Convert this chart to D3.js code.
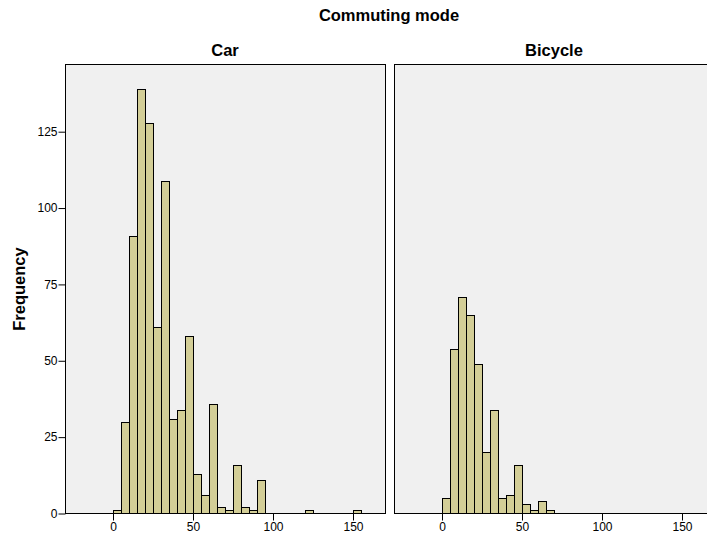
<!DOCTYPE html>
<html>
<head>
<meta charset="utf-8">
<script src="https://cdn.jsdelivr.net/npm/d3@7"></script>
<style>
  body { margin: 0; background: #fff; }
  svg { display: block; font-family: "Liberation Sans", Arial, sans-serif; }
  .title { font-size: 16.5px; font-weight: bold; }
  .axis text { font-size: 12px; fill: #000; }
  .axis path, .axis line { stroke: #000; }
</style>
</head>
<body>
<script>
'use strict';

var width = 707;
var height = 536;

// histogram bins are 5 minutes wide, starting at 0
var binStarts = [0, 5, 10, 15, 20, 25, 30, 35, 40, 45, 50, 55, 60, 65, 70, 75, 80, 85, 90, 95,
  100, 105, 110, 115, 120, 125, 130, 135, 140, 145, 150];
var carCounts = [1, 30, 91, 139, 128, 61, 109, 31, 34, 58, 13, 6, 36, 2, 1, 16, 2, 1, 11, 0,
  0, 0, 0, 0, 1, 0, 0, 0, 0, 0, 1];
var bicycleCounts = [5, 54, 71, 65, 49, 20, 34, 5, 6, 16, 3, 1, 4, 1, 0, 0, 0, 0, 0, 0,
  0, 0, 0, 0, 0, 0, 0, 0, 0, 0, 0];
var panelNames = ['Car', 'Bicycle'];
var xTicks = [0, 50, 100, 150];
var yTicks = [0, 25, 50, 75, 100, 125];

var panelW = 320;
var plotTop = 64.5;
var plotBottom = 513.5;
var panelLefts = [65, 394];

var svg = d3.select('body').append('svg').attr('width', width).attr('height', height);

svg.append('text').attr('class', 'title').attr('x', 389).attr('y', 21)
  .attr('text-anchor', 'middle').text('Commuting mode');

var y = d3.scaleLinear().domain([0, 147]).range([plotBottom, plotTop]);

svg.append('text').attr('class', 'title')
  .attr('transform', 'translate(25,' + ((plotTop + plotBottom) / 2) + ') rotate(-90)')
  .attr('text-anchor', 'middle').text('Frequency');

var yAxis = svg.append('g').attr('class', 'axis')
  .attr('transform', 'translate(' + (panelLefts[0] + 0.5) + ',0)')
  .call(d3.axisLeft(y).tickValues(yTicks).tickSize(7).tickPadding(1).tickSizeOuter(0));
yAxis.select('.domain').remove();

[carCounts, bicycleCounts].forEach(function (counts, p) {
  var left = panelLefts[p];
  var x = d3.scaleLinear().domain([-30, 170]).range([left, left + panelW]);
  var g = svg.append('g');

  g.append('rect').attr('x', left + 0.5).attr('y', plotTop).attr('width', panelW).attr('height', plotBottom - plotTop)
    .attr('fill', '#f0f0f0').attr('stroke', '#000');

  svg.append('text').attr('class', 'title').attr('x', left + panelW / 2).attr('y', 56)
    .attr('text-anchor', 'middle').text(panelNames[p]);

  g.selectAll('rect.bar').data(binStarts.filter(function (d, i) { return counts[i] > 0; }))
    .enter().append('rect').attr('class', 'bar')
    .attr('x', function (d) { return Math.round(x(d)) + 0.5; })
    .attr('width', function (d) { return Math.round(x(d + 5)) - Math.round(x(d)); })
    .attr('y', function (d) { return Math.round(y(counts[binStarts.indexOf(d)])) + 0.5; })
    .attr('height', function (d) { return plotBottom - Math.round(y(counts[binStarts.indexOf(d)])) - 0.5; })
    .attr('fill', '#d3ce97').attr('stroke', '#000').attr('stroke-width', 1);

  g.append('line').attr('x1', left).attr('x2', left + panelW + 1)
    .attr('y1', plotBottom).attr('y2', plotBottom).attr('stroke', '#000');

  var xAxis = svg.append('g').attr('class', 'axis')
    .attr('transform', 'translate(0,' + plotBottom + ')')
    .call(d3.axisBottom(x).tickValues(xTicks).tickSize(7).tickPadding(2).tickSizeOuter(0));
  xAxis.select('.domain').remove();
});
</script>
</body>
</html>
